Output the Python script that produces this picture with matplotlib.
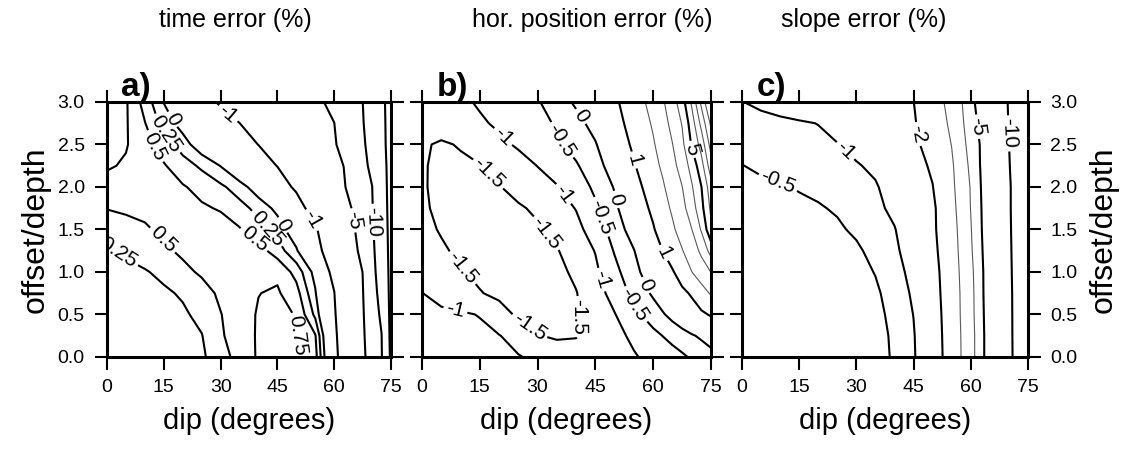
import numpy as np
import matplotlib
matplotlib.use("Agg")
import matplotlib.pyplot as plt

plt.rcParams['font.family'] = ['Liberation Sans', 'DejaVu Sans']
plt.rcParams['contour.negative_linestyle'] = 'solid'

# grid: dip (degrees) x offset/depth
dip = [0, 5, 10, 15, 20, 25, 30, 35, 40, 45, 50, 55, 60, 62.5, 65, 67.5, 70, 72.5, 75]
offset = [0.0, 0.25, 0.5, 0.75, 1.0, 1.25, 1.5, 1.75, 2.0, 2.25, 2.5, 2.75, 3.0]

# a) time error (%), one row per offset
time_err = [
    [0.02, 0.04, 0.06, 0.09, 0.13, 0.21, 0.39, 0.60, 0.78, 0.83, 0.78, 0.60, -0.63, -1.56, -2.94, -4.33, -6.55, -9.52, -21.5],
    [0.05, 0.06, 0.08, 0.11, 0.15, 0.24, 0.47, 0.62, 0.78, 0.82, 0.77, 0.52, -0.71, -1.72, -3.11, -4.50, -6.90, -9.88, -22.0],
    [0.08, 0.10, 0.13, 0.17, 0.21, 0.32, 0.49, 0.65, 0.77, 0.80, 0.74, 0.19, -0.84, -1.93, -3.30, -4.67, -7.26, -10.9, -22.3],
    [0.12, 0.14, 0.17, 0.21, 0.28, 0.39, 0.55, 0.66, 0.745, 0.78, 0.60, 0.03, -0.97, -2.21, -3.53, -4.84, -7.60, -12.1, -22.5],
    [0.17, 0.20, 0.23, 0.31, 0.43, 0.54, 0.62, 0.68, 0.71, 0.70, 0.41, -0.10, -1.30, -2.53, -3.77, -5.02, -8.05, -13.3, -22.6],
    [0.22, 0.28, 0.37, 0.45, 0.55, 0.62, 0.66, 0.68, 0.60, 0.38, 0.04, -0.58, -1.77, -2.98, -4.18, -5.87, -8.59, -14.1, -22.8],
    [0.34, 0.41, 0.47, 0.55, 0.60, 0.62, 0.60, 0.52, 0.35, 0.15, -0.21, -0.81, -2.46, -3.54, -4.61, -6.60, -9.10, -15.0, -22.8],
    [0.51, 0.54, 0.56, 0.57, 0.56, 0.53, 0.48, 0.34, 0.17, -0.08, -0.60, -1.44, -3.25, -4.16, -5.18, -7.37, -9.56, -15.7, -22.9],
    [0.65, 0.62, 0.59, 0.56, 0.52, 0.43, 0.30, 0.125, -0.17, -0.60, -1.14, -2.58, -4.01, -4.73, -6.17, -8.05, -9.92, -16.3, -22.9],
    [0.78, 0.72, 0.62, 0.52, 0.37, 0.20, -0.01, -0.34, -0.67, -1.02, -2.16, -3.30, -4.43, -5.02, -6.80, -8.57, -11.2, -17.0, -22.8],
    [0.85, 0.77, 0.59, 0.39, 0.125, -0.18, -0.46, -0.73, -1.01, -1.94, -2.88, -3.82, -4.76, -5.79, -7.43, -9.08, -12.3, -17.7, -23.0],
    [0.90, 0.775, 0.51, 0.15, -0.12, -0.41, -0.70, -0.99, -1.78, -2.58, -3.38, -4.18, -4.98, -6.48, -8.00, -9.57, -13.4, -18.1, -22.8],
    [0.95, 0.78, 0.40, -0.01, -0.36, -0.70, -1.09, -1.77, -2.45, -3.12, -3.80, -4.47, -5.63, -7.07, -8.50, -9.94, -14.1, -18.4, -22.8],
]

# b) horizontal position error (%)
hpos_err = [
    [-0.60, -0.65, -0.72, -0.80, -0.88, -0.97, -1.10, -1.25, -1.35, -1.30, -1.20, -1.04, -0.87, -0.78, -0.69, -0.58, -0.44, -0.30, -0.15],
    [-0.72, -0.77, -0.83, -0.90, -0.98, -1.20, -1.48, -1.56, -1.52, -1.32, -1.13, -0.91, -0.64, -0.49, -0.35, -0.20, -0.05, 0.08, 0.20],
    [-0.86, -0.90, -0.94, -1.02, -1.35, -1.56, -1.62, -1.62, -1.54, -1.28, -1.02, -0.64, -0.25, -0.05, 0.17, 0.39, 0.62, 0.85, 1.08],
    [-0.99, -1.17, -1.33, -1.48, -1.58, -1.64, -1.66, -1.62, -1.52, -1.20, -0.82, -0.36, 0.08, 0.32, 0.56, 0.81, 1.10, 1.60, 2.10],
    [-1.24, -1.35, -1.47, -1.58, -1.64, -1.68, -1.68, -1.62, -1.41, -1.09, -0.64, -0.17, 0.35, 0.64, 0.92, 1.42, 1.99, 2.50, 3.02],
    [-1.33, -1.45, -1.57, -1.65, -1.70, -1.67, -1.62, -1.53, -1.27, -0.98, -0.46, -0.02, 0.67, 1.01, 1.48, 1.95, 2.50, 3.20, 4.40],
    [-1.40, -1.53, -1.63, -1.68, -1.68, -1.62, -1.55, -1.39, -1.14, -0.77, -0.29, 0.26, 0.93, 1.38, 1.85, 2.40, 2.98, 4.10, 5.80],
    [-1.43, -1.60, -1.66, -1.67, -1.62, -1.55, -1.43, -1.21, -0.98, -0.57, -0.11, 0.48, 1.17, 1.64, 2.14, 2.70, 3.50, 4.70, 6.20],
    [-1.46, -1.60, -1.63, -1.60, -1.52, -1.36, -1.19, -1.03, -0.74, -0.41, 0.04, 0.67, 1.44, 1.89, 2.43, 2.98, 3.90, 4.98, 6.60],
    [-1.47, -1.57, -1.57, -1.52, -1.35, -1.18, -0.99, -0.77, -0.55, -0.21, 0.27, 0.93, 1.71, 2.16, 2.71, 3.40, 4.35, 5.60, 7.60],
    [-1.45, -1.55, -1.47, -1.28, -1.11, -0.94, -0.76, -0.58, -0.33, -0.04, 0.51, 1.14, 1.91, 2.42, 2.98, 3.75, 5.10, 6.40, 8.40],
    [-1.35, -1.30, -1.20, -1.07, -0.92, -0.77, -0.63, -0.455, -0.17, 0.19, 0.70, 1.32, 2.11, 2.65, 3.27, 4.06, 5.50, 7.30, 9.20],
    [-1.30, -1.25, -1.10, -0.94, -0.80, -0.67, -0.54, -0.26, 0.085, 0.47, 0.86, 1.49, 2.36, 2.89, 3.57, 4.56, 6.17, 8.25, 10.3],
]

# c) slope error (%)
slope_err = [
    [-0.07, -0.07, -0.08, -0.09, -0.11, -0.15, -0.21, -0.32, -0.56, -0.94, -1.58, -2.38, -3.64, -4.50, -5.70, -7.30, -8.95, -11.65, -15.0],
    [-0.08, -0.08, -0.09, -0.10, -0.12, -0.16, -0.22, -0.33, -0.58, -0.96, -1.60, -2.40, -3.65, -4.50, -5.70, -7.35, -9.00, -11.7, -15.0],
    [-0.09, -0.10, -0.11, -0.12, -0.14, -0.18, -0.25, -0.36, -0.64, -1.01, -1.63, -2.43, -3.70, -4.55, -5.75, -7.40, -9.05, -11.7, -15.0],
    [-0.11, -0.12, -0.13, -0.15, -0.18, -0.22, -0.29, -0.42, -0.71, -1.08, -1.68, -2.46, -3.70, -4.60, -5.80, -7.40, -9.10, -11.7, -15.0],
    [-0.14, -0.15, -0.17, -0.19, -0.22, -0.27, -0.34, -0.52, -0.80, -1.17, -1.72, -2.50, -3.77, -4.60, -5.86, -7.50, -9.20, -11.8, -15.0],
    [-0.18, -0.20, -0.22, -0.25, -0.29, -0.34, -0.42, -0.65, -0.89, -1.30, -1.80, -2.55, -3.87, -4.70, -5.95, -7.60, -9.30, -11.9, -15.0],
    [-0.23, -0.25, -0.28, -0.32, -0.37, -0.43, -0.58, -0.78, -0.97, -1.43, -1.86, -2.61, -3.94, -4.78, -6.10, -7.70, -9.40, -12.0, -15.0],
    [-0.30, -0.33, -0.37, -0.41, -0.46, -0.55, -0.70, -0.86, -1.14, -1.46, -1.86, -2.70, -4.02, -4.83, -6.20, -7.80, -9.50, -12.0, -15.0],
    [-0.38, -0.42, -0.46, -0.53, -0.60, -0.69, -0.80, -0.94, -1.29, -1.64, -1.98, -2.80, -4.05, -4.90, -6.40, -8.00, -9.50, -12.0, -15.0],
    [-0.49, -0.57, -0.65, -0.73, -0.81, -0.89, -0.95, -1.12, -1.43, -1.74, -2.10, -2.87, -4.18, -5.02, -6.60, -8.20, -9.75, -12.2, -15.0],
    [-0.66, -0.72, -0.78, -0.84, -0.90, -0.98, -1.18, -1.40, -1.63, -1.86, -2.27, -3.02, -4.33, -5.04, -6.80, -8.40, -9.94, -12.3, -15.0],
    [-0.83, -0.87, -0.91, -0.95, -1.01, -1.20, -1.38, -1.57, -1.75, -1.93, -2.43, -3.17, -4.48, -5.24, -6.99, -8.50, -10.1, -12.5, -15.0],
    [-0.99, -1.09, -1.19, -1.32, -1.43, -1.54, -1.65, -1.77, -1.88, -1.99, -2.55, -3.30, -4.57, -5.60, -7.10, -8.60, -10.2, -12.5, -15.0],
]

titles = ['time error (%)', 'hor. position error (%)', 'slope error (%)']
panel_tags = ['a)', 'b)', 'c)']
x_ticks = [0, 15, 30, 45, 60, 75]
y_ticks = [0.0, 0.5, 1.0, 1.5, 2.0, 2.5, 3.0]

levels_a = [-20, -10, -5, -1, 0, 0.25, 0.5, 0.75]
levels_b = [-1.5, -1, -0.5, 0, 1, 5]
thin_b = [2, 3, 4, 6, 7, 8, 9]
levels_c = [-10, -5, -2, -1, -0.5]
thin_c = [-4, -3]

# where the contour labels sit (dip, offset)
lab_a = [(11.5, 2.45), (15.5, 2.62), (17.5, 2.8), (31.7, 2.85), (38.3, 1.35), (42.5, 1.52),
         (47.5, 1.58), (55.5, 1.65), (65.5, 1.61), (70.8, 1.59), (14.8, 1.38), (2.9, 1.22), (51.0, 0.26)]
lab_b = [(21, 2.59), (36.3, 2.55), (41.9, 2.85), (55.3, 2.32), (70, 2.44), (16.8, 2.14),
         (37.1, 1.93), (50.1, 1.85), (46.6, 1.65), (33.2, 1.49), (62.6, 1.22), (46.6, 0.91),
         (58.3, 0.85), (54.4, 0.59), (10.3, 1.04), (9.4, 0.69), (27.6, 0.34), (41.4, 0.47)]
lab_c = [(27, 2.42), (10, 2.12), (47.1, 2.63), (62, 2.71), (69.8, 2.63)]

fig = plt.figure(figsize=(11.42, 4.54), dpi=100)
boxes = [[0.0937, 0.2137, 0.2487, 0.5617],
         [0.3695, 0.2137, 0.2531, 0.5617],
         [0.6497, 0.2137, 0.2504, 0.5617]]

fields = [time_err, hpos_err, slope_err]
bold = [levels_a, levels_b, levels_c]
thin = [None, thin_b, thin_c]
labs = [lab_a, lab_b, lab_c]


def fmt(v):
    return f"{v:g}"


for i in range(3):
    ax = fig.add_axes(boxes[i])
    z = np.array(fields[i])
    if thin[i]:
        ax.contour(dip, offset, z, levels=thin[i], colors='0.35', linewidths=0.8,
                   linestyles='solid')
    cs = ax.contour(dip, offset, z, levels=bold[i], colors='black', linewidths=1.5,
                    linestyles='solid')
    ax.clabel(cs, manual=labs[i], inline=True, inline_spacing=3, fontsize=15, fmt=fmt)
    ax.set_xlim(0, 75)
    ax.set_ylim(0, 3)
    ax.set_xticks(x_ticks)
    ax.set_yticks(y_ticks)
    ax.set_yticklabels([f"{v:.1f}" for v in y_ticks])
    ax.tick_params(direction='out', length=9, width=1.5, top=True, right=True,
                   labelsize=14, pad=7, labelleft=(i == 0), labelright=(i == 2))
    for s in ax.spines.values():
        s.set_linewidth(2.2)
    ax.set_xlabel('dip (degrees)', fontsize=21, labelpad=8)
    if i == 0:
        ax.set_ylabel('offset/depth', fontsize=23, labelpad=5)
    if i == 2:
        ax.yaxis.set_label_position('right')
        ax.set_ylabel('offset/depth', fontsize=23, labelpad=8, rotation=90)
    ax.text(0.05, 0.995, panel_tags[i], transform=ax.transAxes, fontsize=24,
            fontweight='bold', va='bottom', ha='left')

title_x = [235, 592, 864]
for t, x in zip(titles, title_x):
    fig.text(x / 1142, 1 - 20 / 454, t, fontsize=18, ha='center', va='center')

fig.savefig('out.png', dpi=100)
